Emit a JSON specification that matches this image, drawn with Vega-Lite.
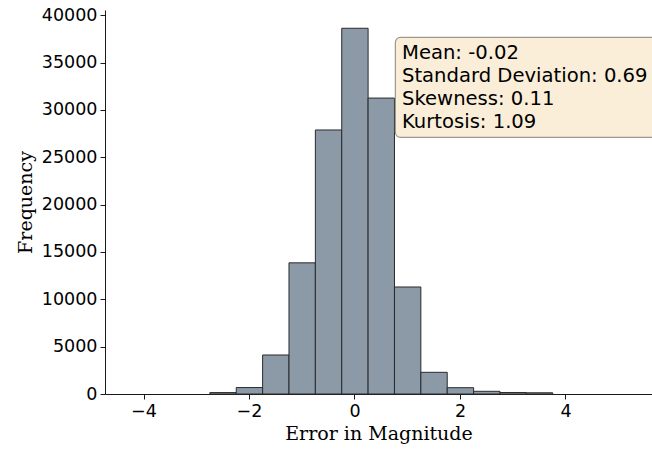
{
  "$schema": "https://vega.github.io/schema/vega-lite/v6.json",
  "autosize": {"type": "none"},
  "padding": {"left": 105, "top": 10, "right": 0, "bottom": 59},
  "width": 547,
  "height": 384,
  "config": {
    "view": {"stroke": null},
    "axis": {
      "labelFont": "DejaVu Sans",
      "labelFontSize": 17.5,
      "labelColor": "#000000",
      "tickColor": "#000000",
      "tickSize": 5,
      "tickWidth": 0.9,
      "domainColor": "#000000",
      "domainWidth": 0.9,
      "grid": false,
      "titleFont": "DejaVu Serif",
      "titleFontSize": 19,
      "titleFontWeight": "normal",
      "titleColor": "#000000",
      "labelPadding": 3
    }
  },
  "datasets": {
    "bins": [
      {"bin_start": -2.742, "bin_end": -2.242, "count": 150},
      {"bin_start": -2.242, "bin_end": -1.742, "count": 680},
      {"bin_start": -1.742, "bin_end": -1.242, "count": 4120},
      {"bin_start": -1.242, "bin_end": -0.742, "count": 13850},
      {"bin_start": -0.742, "bin_end": -0.242, "count": 27880},
      {"bin_start": -0.242, "bin_end": 0.258, "count": 38620},
      {"bin_start": 0.258, "bin_end": 0.758, "count": 31250},
      {"bin_start": 0.758, "bin_end": 1.258, "count": 11300},
      {"bin_start": 1.258, "bin_end": 1.758, "count": 2290},
      {"bin_start": 1.758, "bin_end": 2.258, "count": 665},
      {"bin_start": 2.258, "bin_end": 2.758, "count": 285},
      {"bin_start": 2.758, "bin_end": 3.258, "count": 160},
      {"bin_start": 3.258, "bin_end": 3.758, "count": 130}
    ],
    "box": [
      {"x1": 0.775, "x2": 7, "y1": 27100, "y2": 37650}
    ],
    "stats": [
      {"label": "Mean: -0.02", "x": 0.9, "y": 35975},
      {"label": "Standard Deviation: 0.69", "x": 0.9, "y": 33570},
      {"label": "Skewness: 0.11", "x": 0.9, "y": 31105},
      {"label": "Kurtosis: 1.09", "x": 0.9, "y": 28700}
    ]
  },
  "layer": [
    {
      "data": {"name": "bins"},
      "mark": {"type": "rect", "fill": "#8c99a6", "stroke": "#2a2a2a", "strokeWidth": 1},
      "encoding": {
        "x": {
          "field": "bin_start",
          "type": "quantitative",
          "scale": {"domain": [-4.73, 5.64], "nice": false, "zero": false},
          "axis": {"values": [-4, -2, 0, 2, 4], "title": "Error in Magnitude", "titlePadding": 5, "format": "d"}
        },
        "x2": {"field": "bin_end"},
        "y": {
          "field": "count",
          "type": "quantitative",
          "scale": {"domain": [0, 40550], "nice": false},
          "axis": {"values": [0, 5000, 10000, 15000, 20000, 25000, 30000, 35000, 40000], "format": "d", "title": "Frequency", "titlePadding": 6}
        },
        "y2": {"datum": 0}
      }
    },
    {
      "mark": {"type": "rule", "color": "#000000", "strokeWidth": 0.9},
      "encoding": {"y": {"datum": 40550}}
    },
    {
      "data": {"name": "box"},
      "mark": {"type": "rect", "fill": "#faeed9", "stroke": "#9e9890", "strokeWidth": 1.2, "cornerRadius": 5, "clip": true},
      "encoding": {
        "x": {"field": "x1", "type": "quantitative"},
        "x2": {"field": "x2"},
        "y": {"field": "y1", "type": "quantitative"},
        "y2": {"field": "y2"}
      }
    },
    {
      "data": {"name": "stats"},
      "mark": {"type": "text", "align": "left", "baseline": "middle", "font": "DejaVu Sans", "fontSize": 19.6, "color": "#000000"},
      "encoding": {
        "x": {"field": "x", "type": "quantitative"},
        "y": {"field": "y", "type": "quantitative"},
        "text": {"field": "label"}
      }
    }
  ]
}
